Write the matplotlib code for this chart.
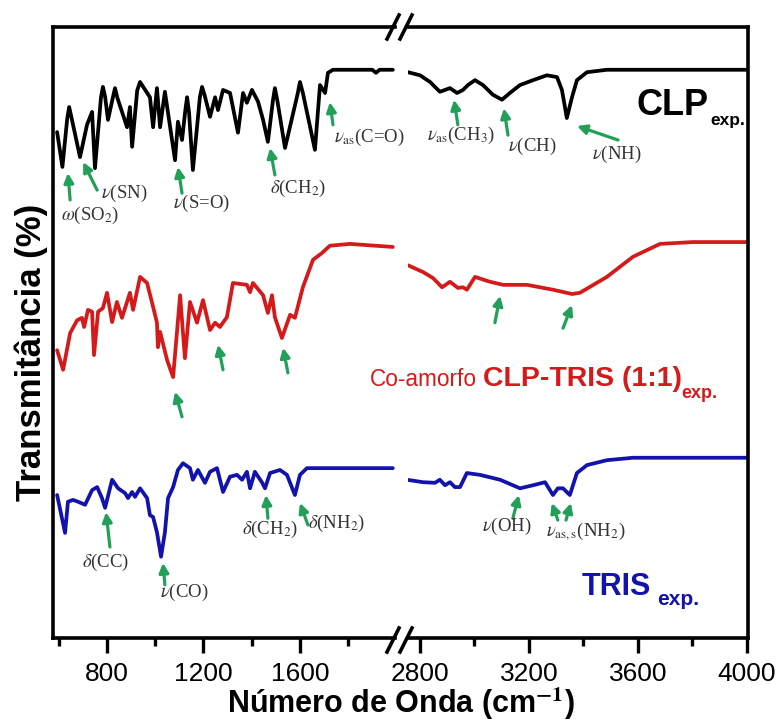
import matplotlib.pyplot as plt
from matplotlib.lines import Line2D

plt.rcParams['mathtext.fontset'] = 'stix'
plt.rcParams['font.family'] = ['Liberation Sans', 'DejaVu Sans']

## spectra: wavenumber (cm-1) and transmittance (arb. %, stacked)
## the axis is broken, so each spectrum comes in a low and a high part

clp_wn_low = [593, 615, 635, 643, 652, 688, 717, 738, 750, 775, 783, 792, 804, 825, 833, 843, 883, 895, 904,
              925, 937, 950, 978, 991, 1007, 1020, 1040, 1082, 1094, 1111, 1125, 1132, 1140, 1156, 1185, 1194,
              1205, 1227, 1248, 1260, 1281, 1310, 1343, 1364, 1380, 1401, 1426, 1447, 1467, 1488, 1496, 1506,
              1538, 1590, 1600, 1612, 1662, 1683, 1704, 1716, 1737, 1900, 1915, 1930, 1985]
clp_t_low = [82.8, 77.1, 85.0, 86.9, 85.3, 78.7, 84.0, 86.1, 76.9, 88.5, 90.2, 88.6, 84.8, 88.6, 90.0, 88.4,
             83.6, 86.9, 80.4, 89.6, 91.0, 90.2, 88.5, 83.6, 90.0, 83.6, 89.4, 78.2, 84.5, 81.5, 86.5, 88.5,
             86.0, 76.6, 88.5, 90.2, 88.8, 85.3, 88.5, 86.4, 89.7, 89.2, 82.7, 89.2, 87.6, 89.7, 87.8, 84.8,
             81.2, 88.0, 90.0, 88.0, 80.2, 89.0, 91.0, 89.2, 79.9, 90.5, 89.2, 92.5, 93.0, 93.0, 92.5, 93.0, 93.0]
clp_wn_high = [2756, 2800, 2837, 2873, 2892, 2910, 2936, 2958, 2976, 3002, 3031, 3068, 3101, 3130, 3167,
               3215, 3266, 3303, 3321, 3339, 3358, 3376, 3413, 3486, 4004]
clp_t_high = [92.6, 92.1, 91.0, 89.4, 89.7, 90.0, 89.2, 89.7, 90.5, 91.3, 90.5, 88.9, 88.1, 89.2, 90.5,
              91.3, 92.1, 91.8, 89.7, 85.1, 88.5, 91.3, 92.6, 93.0, 93.0]

mix_wn_low = [593, 618, 647, 676, 696, 705, 721, 738, 746, 763, 783, 800, 821, 841, 862, 895, 908, 937, 966,
              991, 1007, 1011, 1020, 1049, 1074, 1103, 1123, 1144, 1173, 1198, 1227, 1248, 1268, 1297, 1322,
              1380, 1393, 1405, 1447, 1467, 1484, 1496, 1525, 1559, 1579, 1612, 1654, 1691, 1724, 1807, 1985]
mix_t_low = [47.1, 43.9, 49.9, 52.0, 52.4, 50.9, 53.7, 53.4, 46.3, 53.4, 54.0, 56.5, 51.7, 55.0, 52.4, 56.5,
             53.7, 59.1, 58.1, 54.2, 51.6, 47.6, 50.1, 45.5, 42.7, 56.1, 45.8, 55.0, 51.6, 55.3, 50.4, 51.6,
             50.9, 52.5, 58.1, 57.8, 56.6, 58.1, 56.1, 53.2, 56.1, 52.5, 49.1, 52.9, 52.4, 57.4, 61.9, 63.0,
             64.2, 64.5, 64.0]
mix_wn_high = [2756, 2811, 2848, 2881, 2910, 2939, 2958, 2972, 3002, 3057, 3105, 3193, 3288, 3358, 3387,
               3486, 3582, 3681, 3802, 4004]
mix_t_high = [61.0, 59.9, 58.9, 57.4, 58.3, 57.3, 57.4, 57.0, 59.1, 58.3, 57.8, 57.8, 57.0, 56.3, 56.5,
              59.1, 62.4, 64.5, 64.8, 64.8]

tris_wn_low = [593, 626, 638, 659, 680, 709, 738, 759, 779, 792, 821, 846, 875, 887, 904, 916, 937, 966, 978,
               991, 1007, 1024, 1040, 1053, 1074, 1094, 1115, 1144, 1156, 1177, 1206, 1227, 1256, 1281, 1310,
               1339, 1360, 1380, 1393, 1413, 1442, 1455, 1476, 1517, 1546, 1579, 1600, 1629, 1737, 1985]
tris_t_low = [23.4, 17.2, 22.3, 22.6, 22.3, 21.8, 24.2, 24.7, 22.9, 21.3, 25.9, 24.5, 23.7, 22.9, 23.9, 23.1,
              24.5, 22.9, 20.1, 19.8, 17.3, 13.3, 17.3, 22.9, 24.7, 27.5, 28.6, 27.8, 25.9, 27.5, 25.4, 27.2,
              27.8, 23.9, 26.4, 26.7, 25.9, 27.2, 24.5, 27.2, 25.5, 24.5, 27.0, 27.5, 26.7, 23.4, 26.7, 27.8,
              27.8, 27.8]
tris_wn_high = [2752, 2811, 2855, 2873, 2892, 2910, 2928, 2947, 2972, 3020, 3094, 3167, 3215, 3259, 3288,
                3306, 3325, 3350, 3376, 3413, 3486, 3582, 4004]
tris_t_high = [25.9, 25.5, 25.4, 25.9, 25.0, 25.5, 24.7, 24.7, 27.0, 26.7, 25.9, 24.5, 25.0, 25.5, 23.4,
               24.5, 24.5, 23.4, 27.0, 28.3, 29.1, 29.5, 29.5]

## band assignments: arrows as (head wn, head T, tail wn, tail T), labels as (text, wn, T)
arrows_low = [(638, 76.1, 647, 71.7), (701, 77.9, 759, 73.3), (1094, 77.1, 1111, 72.8),
              (1476, 80.2, 1496, 75.8), (1724, 87.7, 1737, 84.0),
              (1082, 40.3, 1111, 36.2), (1260, 48.0, 1281, 43.9), (1530, 47.5, 1550, 43.4),
              (796, 20.6, 812, 14.9), (1032, 12.3, 1040, 8.7), (1459, 23.4, 1467, 19.6),
              (1600, 22.1, 1633, 18.5)]
arrows_high = [(2925, 88.1, 2939, 84.0), (3108, 86.7, 3123, 82.3), (3376, 83.8, 3527, 81.5),
               (3094, 56.0, 3075, 51.6), (3358, 54.5, 3325, 50.7),
               (3163, 23.4, 3141, 19.6), (3284, 22.1, 3306, 19.3), (3354, 22.1, 3336, 19.3)]
labels_low = [(r'$\omega$(SO$_2$)', 730, 69.1), (r'$\nu$(SN)', 870, 72.8), (r'$\nu$(S=O)', 1190, 71.2),
              (r'$\delta$(CH$_2$)', 1592, 73.6), (r'$\nu_{\rm as}$(C=O)', 1886, 82.0),
              (r'$\delta$(CC)', 796, 12.4), (r'$\nu$(CO)', 1119, 7.4), (r'$\delta$(CH$_2$)', 1476, 17.7),
              (r'$\delta$(NH$_2$)', 1753, 18.8)]
labels_high = [(r'$\nu_{\rm as}$(CH$_3$)', 2950, 82.3), (r'$\nu$(CH)', 3211, 80.5), (r'$\nu$(NH)', 3523, 79.1),
               (r'$\nu$(OH)', 3119, 18.2), (r'$\nu_{\rm as,s}$(NH$_2$)', 3409, 17.3)]

BLACK = 'black'
RED = '#d41a1a'
BLUE = '#1212ac'
GREEN = '#22a05a'
W, H = 782, 725


def px(x, y):
  return x / W, 1 - y / H


fig = plt.figure(figsize=(W / 100, H / 100), dpi=100)
ax1 = fig.add_axes([53 / W, 87 / H, 342 / W, 611 / H])
ax2 = fig.add_axes([408 / W, 87 / H, 340 / W, 611 / H])

line_kw = dict(lw=2.7, solid_joinstyle='round', solid_capstyle='round')
ax1.plot(clp_wn_low, clp_t_low, color=BLACK, **line_kw)
ax1.plot(mix_wn_low, mix_t_low, color=RED, **line_kw)
ax1.plot(tris_wn_low, tris_t_low, color=BLUE, **line_kw)
ax2.plot(clp_wn_high, clp_t_high, color=BLACK, **line_kw)
ax2.plot(mix_wn_high, mix_t_high, color=RED, **line_kw)
ax2.plot(tris_wn_high, tris_t_high, color=BLUE, **line_kw)

ax1.set_xlim(576, 1994)
ax2.set_xlim(2756, 4004)
ax1.set_xticks([800, 1200, 1600])
ax1.set_xticks([600, 1000, 1400, 1800], minor=True)
ax2.set_xticks([2800, 3200, 3600, 4000])
ax2.set_xticks([3000, 3400, 3800], minor=True)

for ax in (ax1, ax2):
  ax.set_ylim(0, 100)
  ax.set_yticks([])
  for s in ax.spines.values():
    s.set_linewidth(2.6)
  ax.tick_params(axis='x', which='major', direction='out', length=11, width=2.4, pad=6, labelsize=19)
  ax.tick_params(axis='x', which='minor', direction='out', length=6, width=2.4)
ax1.spines['right'].set_visible(False)
ax2.spines['left'].set_visible(False)

for ax, arrows, labels in ((ax1, arrows_low, labels_low), (ax2, arrows_high, labels_high)):
  for hx, hy, tx, ty in arrows:
    ax.annotate('', xy=(hx, hy), xytext=(tx, ty),
                arrowprops=dict(arrowstyle='-|>', color=GREEN, lw=2.3, mutation_scale=14, shrinkA=0, shrinkB=0))
  for txt, x, y in labels:
    ax.text(x, y, txt, ha='center', va='center', fontsize=13.5, color='#333333', family='Liberation Serif')

# sample names
ax2.text(3596, 85.6, 'CLP', fontsize=26, fontweight='bold', color=BLACK, va='baseline')
ax2.text(3866, 84.0, 'exp.', fontsize=12.5, fontweight='bold', color=BLACK, va='baseline')
ax2.text(2616, 41.2, 'Co-amorfo', fontsize=16.3, color=RED, va='baseline')
ax2.text(3031, 41.2, 'CLP-TRIS (1:1)', fontsize=20.5, fontweight='bold', color=RED, va='baseline')
ax2.text(3760, 39.3, 'exp.', fontsize=13, fontweight='bold', color=RED, va='baseline')
ax2.text(3395, 7.0, 'TRIS', fontsize=22, fontweight='bold', color=BLUE, va='baseline')
ax2.text(3670, 5.4, 'exp.', fontsize=15, fontweight='bold', color=BLUE, va='baseline')

# break marks
for yc in (27, 640):
  for xc in (393, 406):
    fig.add_artist(Line2D([px(xc - 6, yc + 12)[0], px(xc + 6, yc - 12)[0]],
                          [px(xc - 6, yc + 12)[1], px(xc + 6, yc - 12)[1]], color='black', lw=2.6))

fig.text(*px(31, 352), 'Transmitância (%)', rotation=90, ha='center', va='center', fontsize=25, fontweight='bold')
fig.text(*px(401, 713), r'Número de Onda (cm$^{\mathbf{-1}}$)', ha='center', va='baseline', fontsize=22,
         fontweight='bold')

fig.savefig('out.png', dpi=100)
